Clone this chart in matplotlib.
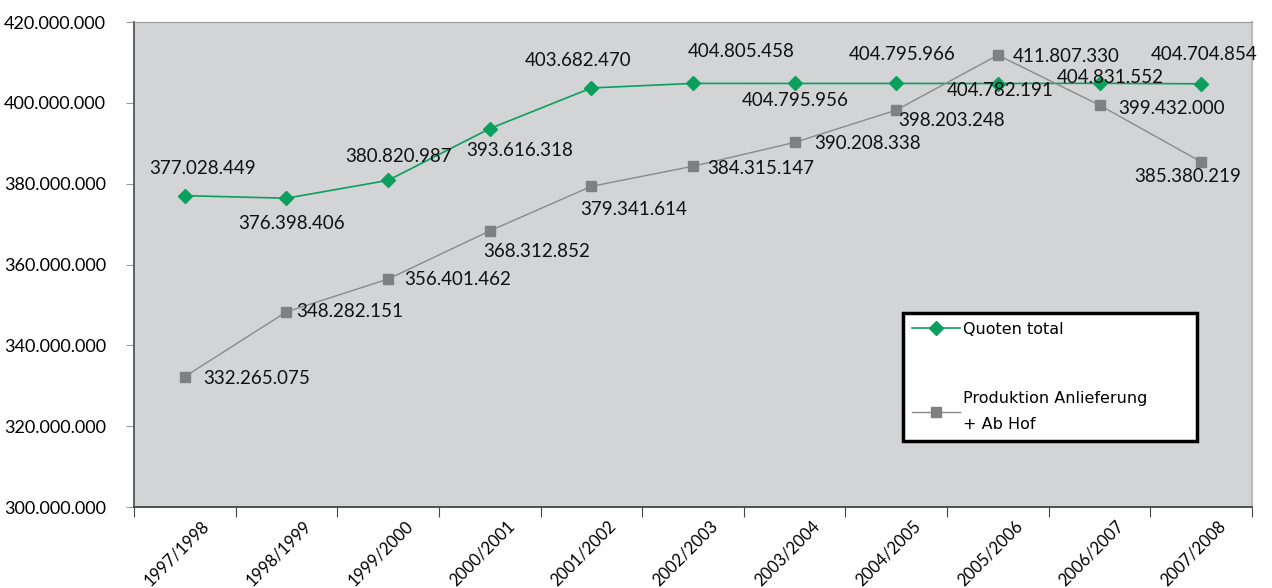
import matplotlib
matplotlib.use("Agg")
import matplotlib.pyplot as plt
from matplotlib.ticker import FixedLocator, FuncFormatter
from matplotlib.transforms import ScaledTranslation

seasons = ["1997/1998", "1998/1999", "1999/2000", "2000/2001", "2001/2002", "2002/2003",
           "2003/2004", "2004/2005", "2005/2006", "2006/2007", "2007/2008"]
quoten = [377028449, 376398406, 380820987, 393616318, 403682470, 404805458,
          404795956, 404795966, 404782191, 404831552, 404704854]
produktion = [332265075, 348282151, 356401462, 368312852, 379341614, 384315147,
              390208338, 398203248, 411807330, 399432000, 385380219]

# label offsets in pixels (dx, dy) so the numbers don't collide
q_off = [(18, 27), (5, -25), (10, 24), (30, -22), (-13, 27), (48, 32),
         (1, -17), (6, 29), (2, -7), (11, 6), (3, 29)]
p_off = [(72, -2), (63, 0), (70, 0), (47, -21), (42, -23), (68, -2),
         (73, -1), (55, -10), (68, -1), (72, -3), (-14, -15)]

GREEN = "#0a9f5c"; GREY = "#808083"; BG = "#d3d4d6"
LBL = "Lato"

def de(v):
    return f"{v:,.0f}".replace(",", ".")

fig = plt.figure(figsize=(12.72, 5.88), dpi=100)
ax = fig.add_axes([134/1272, 1-507/588, 1118/1272, 485/588])
ax.set_facecolor(BG)

x = range(len(seasons))
ax.plot(x, quoten, color=GREEN, lw=1.2, marker="D", ms=7, mec=GREEN, mfc=GREEN,
        label="Quoten total", zorder=3)
ax.plot(x, produktion, color="#8a8a8c", lw=1.0, marker="s", ms=7, mec=GREY, mfc=GREY,
        label="Produktion Anlieferung\n+ Ab Hof", zorder=3)

for i, v in enumerate(quoten):
    ax.annotate(de(v), (i, v), xytext=q_off[i], textcoords="offset pixels",
                ha="center", va="center", fontsize=13.5, family=LBL, color="#111111", zorder=4)
for i, v in enumerate(produktion):
    ax.annotate(de(v), (i, v), xytext=p_off[i], textcoords="offset pixels",
                ha="center", va="center", fontsize=13.5, family=LBL, color="#111111", zorder=4)

ax.set_xlim(-0.5, len(seasons) - 0.5)
ax.set_ylim(300e6, 420e6)
ax.set_yticks(range(300000000, 420000001, 20000000))
ax.yaxis.set_major_formatter(FuncFormatter(lambda v, p: de(v)))
ax.tick_params(axis="y", length=6, color="#999999", pad=14, labelsize=13)
for t in ax.get_yticklabels():
    t.set_family(LBL)

# category ticks sit between seasons, labels at the centres
ax.xaxis.set_major_locator(FixedLocator([i - 0.5 for i in range(len(seasons) + 1)]))
ax.xaxis.set_major_formatter(FuncFormatter(lambda v, p: ""))
ax.xaxis.set_minor_locator(FixedLocator(list(x)))
ax.set_xticklabels(seasons, minor=True)
ax.tick_params(axis="x", which="major", length=7, color="#444444")
ax.tick_params(axis="x", which="minor", length=0, pad=12, labelsize=12)
shift = ScaledTranslation(22/100, 0, fig.dpi_scale_trans)
for t in ax.get_xticklabels(minor=True):
    t.set_rotation(45); t.set_ha("right"); t.set_va("center")
    t.set_rotation_mode("anchor"); t.set_family(LBL)
    t.set_transform(t.get_transform() + shift)

ax.spines["left"].set_color("#555555"); ax.spines["left"].set_linewidth(1.3)
ax.spines["bottom"].set_color("#444444"); ax.spines["bottom"].set_linewidth(1.3)
ax.spines["top"].set_color("#9a9a9a")
ax.spines["right"].set_color("#bbbbbb"); ax.spines["right"].set_linewidth(1.5)

leg = ax.legend(loc="upper left", bbox_to_anchor=(769/1118, 0.0, 294/1118, 194/485),
                mode="expand", frameon=True, fancybox=False, framealpha=1,
                prop={"family": "DejaVu Sans", "size": 11.5}, handlelength=3.0,
                handletextpad=0.2, labelspacing=3.4, borderpad=0.55, borderaxespad=0)
leg.get_frame().set_edgecolor("black"); leg.get_frame().set_linewidth(2.5)
for t in leg.get_texts():
    t.set_linespacing(1.9)

fig.savefig("out.png", dpi=100)
